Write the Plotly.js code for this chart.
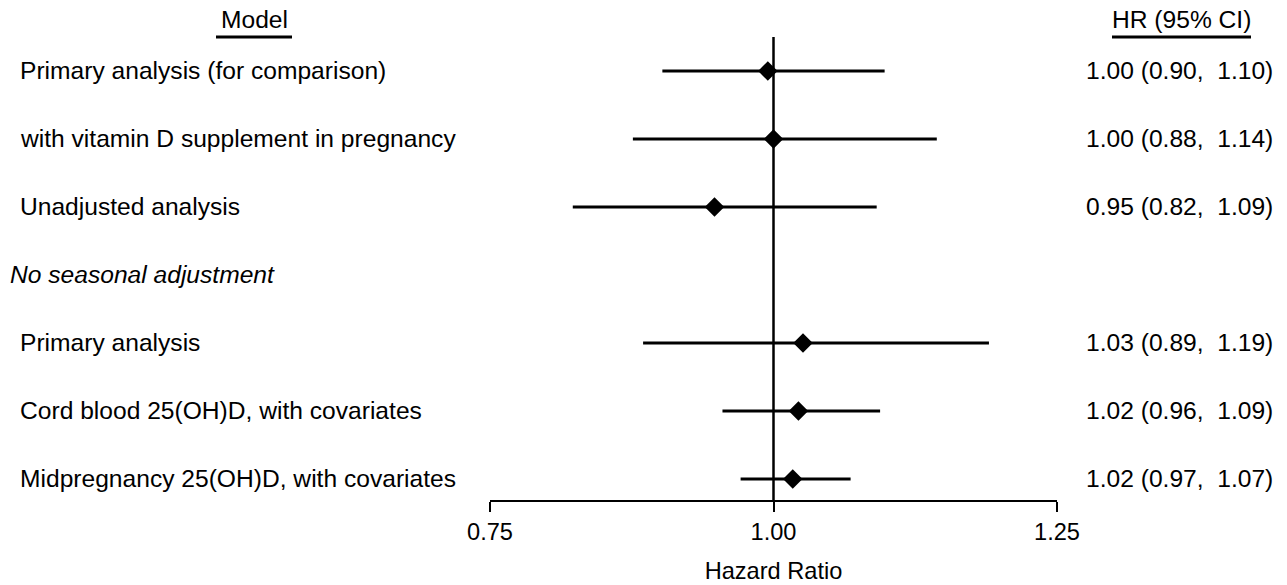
<!DOCTYPE html>
<html>
<head>
<meta charset="utf-8">
<script src="https://cdn.plot.ly/plotly-3.0.1.min.js"></script>
<style>html,body{margin:0;padding:0;background:#fff;}#chart{width:1287px;height:585px;}</style>
</head>
<body>
<div id="chart"></div>
<script>
// ---- data ----
const models = [
  "Primary analysis (for comparison)",
  "with vitamin D supplement in pregnancy",
  "Unadjusted analysis",
  "No seasonal adjustment",
  "Primary analysis",
  "Cord blood 25(OH)D, with covariates",
  "Midpregnancy 25(OH)D, with covariates"
];
const isHeader = [false, false, false, true, false, false, false];
const hr  = [0.995, 1.00, 0.948, 1.026, 1.022, 1.017];
const lo  = [0.902, 0.876, 0.823, 0.885, 0.955, 0.971];
const hi  = [1.098, 1.144, 1.091, 1.190, 1.094, 1.068];
const hrRows = [0, 1, 2, 4, 5, 6];
const hrLabels = [
  "1.00 (0.90,\u00a0 1.10)",
  "1.00 (0.88,\u00a0 1.14)",
  "0.95 (0.82,\u00a0 1.09)",
  "1.03 (0.89,\u00a0 1.19)",
  "1.02 (0.96,\u00a0 1.09)",
  "1.02 (0.97,\u00a0 1.07)"
];
const xTicks = [0.75, 1.00, 1.25];
const xTickText = ["0.75", "1.00", "1.25"];

// ---- layout constants ----
const FONT = "Liberation Sans, Arial, sans-serif";
const FS = 24.6;
const FST = 23.6;
const L = 490, R = 230, W = 1287, T = 37, B = 85, H = 585;
const plotW = W - L - R;
const plotH = H - T - B;
const px2paper = p => (p - L) / plotW;
const py2paper = p => (H - B - p) / plotH;

const trace = {
  type: "scatter",
  mode: "markers",
  x: hr,
  y: hrRows,
  marker: {symbol: "diamond", size: 15, color: "#000"},
  error_x: {
    type: "data",
    symmetric: false,
    array: hr.map((v, i) => hi[i] - v),
    arrayminus: hr.map((v, i) => v - lo[i]),
    color: "#000",
    thickness: 3,
    width: 0
  },
  hoverinfo: "skip",
  showlegend: false,
  cliponaxis: false
};

const annotations = [];
models.forEach((m, i) => {
  annotations.push({
    xref: "paper", yref: "y",
    x: px2paper(isHeader[i] ? 8 : 18), y: i,
    xanchor: "left", yanchor: "middle",
    text: isHeader[i] ? "<i>" + m + "</i>" : m,
    showarrow: false,
    font: {family: FONT, size: FS, color: "#000"}
  });
});
hrLabels.forEach((t, k) => {
  annotations.push({
    xref: "paper", yref: "y",
    x: px2paper(1275), y: hrRows[k],
    xanchor: "right", yanchor: "middle",
    text: t, showarrow: false,
    font: {family: FONT, size: FS, color: "#000"}
  });
});
// column headers
annotations.push({xref: "paper", yref: "paper", x: px2paper(254), y: py2paper(20), xanchor: "center", yanchor: "middle",
  text: "Model", showarrow: false, font: {family: FONT, size: FS, color: "#000"}});
annotations.push({xref: "paper", yref: "paper", x: px2paper(1181), y: py2paper(20), xanchor: "center", yanchor: "middle",
  text: "HR (95% CI)", showarrow: false, font: {family: FONT, size: FS, color: "#000"}});

const shapes = [
  {type: "line", xref: "x", yref: "paper", x0: 1, x1: 1, y0: 0, y1: 1, line: {color: "#000", width: 2.5}},
  {type: "line", xref: "paper", yref: "paper", x0: px2paper(216), x1: px2paper(292), y0: py2paper(37), y1: py2paper(37), line: {color: "#000", width: 3}},
  {type: "line", xref: "paper", yref: "paper", x0: px2paper(1112), x1: px2paper(1251), y0: py2paper(37), y1: py2paper(37), line: {color: "#000", width: 3}}
];

const layout = {
  width: W, height: H,
  margin: {l: L, r: R, t: T, b: B},
  paper_bgcolor: "#fff", plot_bgcolor: "#fff",
  font: {family: FONT, size: FS, color: "#000"},
  xaxis: {
    range: [0.75, 1.25],
    tickvals: xTicks, ticktext: xTickText,
    showline: true, linecolor: "#000", linewidth: 2,
    ticks: "outside", ticklen: 10, tickwidth: 2, tickcolor: "#000",
    showgrid: false, zeroline: false,
    tickfont: {family: FONT, size: FST, color: "#000"},
    title: {text: "Hazard Ratio", font: {family: FONT, size: FST, color: "#000"}, standoff: 18},
    automargin: false, fixedrange: true
  },
  yaxis: {
    range: [6.31, -0.5],
    visible: false, showgrid: false, zeroline: false, fixedrange: true
  },
  annotations: annotations,
  shapes: shapes
};

Plotly.newPlot("chart", [trace], layout, {displayModeBar: false, staticPlot: true});
</script>
</body>
</html>
